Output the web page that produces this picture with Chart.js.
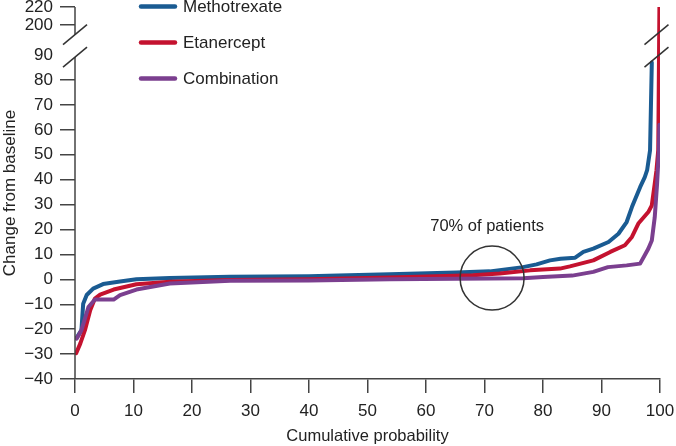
<!DOCTYPE html>
<html>
<head>
<meta charset="utf-8">
<script src="https://cdn.jsdelivr.net/npm/chart.js@4.4.0/dist/chart.umd.min.js"></script>
<style>
    html, body { margin: 0; padding: 0; background: #ffffff; }
    #wrap { width: 676px; height: 446px; }
</style>
</head>
<body>
<div id="wrap"><canvas id="cdfChart" width="676" height="446"></canvas></div>
<script>
// CUMULATIVE PROBABILITY PLOT - change from baseline by treatment
const seriesLabels = ['Methotrexate', 'Etanercept', 'Combination'];
const seriesColors = ['#1a5b92', '#c4122f', '#7b3f8f'];

const methotrexateX = [0.3, 1.1, 1.4, 2.0, 3.1, 4.8, 7.7, 10.5, 16.2, 26.5, 40, 45, 53.8, 65.2, 70.9, 76.6, 78.9, 81.2, 83, 85.5, 86.9, 88.6, 91.2, 92.9, 94.3, 95.2, 96.6, 97.4, 97.8, 98.3, 98.6];
const methotrexateY = [-23.4, -20.4, -9.8, -6.3, -3.7, -1.9, -0.9, 0, 0.5, 1.0, 1.2, 1.5, 2.0, 2.7, 3.2, 4.9, 6.0, 7.6, 8.3, 8.7, 11, 12.3, 15, 18.3, 23, 29, 37, 41, 43.8, 51.8, 87];

const etanerceptX = [0.2, 0.9, 1.7, 2.6, 3.4, 4.3, 6.6, 10.5, 16.2, 26.5, 40, 53.8, 68, 72.6, 77.8, 82.9, 84.6, 88.6, 91.5, 94, 95.2, 96.3, 98, 98.6, 99.1, 99.4, 99.7, 99.9];
const etanerceptY = [-29.6, -25.8, -20.4, -12.4, -7.7, -6.1, -4.1, -2.0, -1.0, -0.3, 0, 0.7, 1.6, 2.3, 3.6, 4.3, 5.2, 7.6, 11, 13.7, 17, 22.4, 27, 29.7, 38.4, 43.8, 51.8, 220];

const combinationX = [0.3, 1.1, 2.3, 3.4, 6.6, 7.7, 10.5, 16.2, 26.5, 40, 53.8, 76.6, 80, 85, 88.6, 91.1, 94.3, 96.6, 98, 98.6, 99.1, 99.5, 99.8, 99.9];
const combinationY = [-23.8, -20.4, -11.1, -8.1, -8.1, -6.3, -4.1, -1.7, -0.6, -0.5, 0, 0.4, 0.9, 1.5, 3, 4.9, 5.6, 6.3, 12.3, 15.6, 24.9, 38.3, 51.6, 62];

const xTickValues = [0, 10, 20, 30, 40, 50, 60, 70, 80, 90, 100];
const yTickValues = [-40, -30, -20, -10, 0, 10, 20, 30, 40, 50, 60, 70, 80, 90, 200, 220];

const xTitle = 'Cumulative probability';
const yTitle = 'Change from baseline';
const noteText = '70% of patients';

// broken y axis: 0..90 linear, gap, then 200..220 squeezed on top
function toDisplay(v) {
    if (v <= 90) return v;
    if (v >= 200) return 102.1 + (v - 200) * 0.36;
    return 90 + (v - 90) * 12.1 / 110;
}

function toPoints(xs, ys) {
    return xs.map((x, i) => ({ x: x, y: toDisplay(ys[i]) }));
}

const textColor = '#222222';
const axisColor = '#444444';
const fontFamily = '"Liberation Sans", Arial, sans-serif';

// custom drawing: axis line with break, slashes, legend, circle note
const extrasPlugin = {
    id: 'extras',
    afterDatasetsDraw(chart) {
        const ctx = chart.ctx;
        const xs = chart.scales.x;
        const ys = chart.scales.y;
        const axisX = chart.chartArea.left;
        const yUp = ys.getPixelForValue(98.2);
        const yLow = ys.getPixelForValue(89.2);

        ctx.save();
        ctx.strokeStyle = axisColor;
        ctx.lineWidth = 1.5;

        // y axis line in two pieces
        ctx.beginPath();
        ctx.moveTo(axisX, ys.getPixelForValue(toDisplay(220)));
        ctx.lineTo(axisX, yUp);
        ctx.moveTo(axisX, yLow);
        ctx.lineTo(axisX, chart.chartArea.bottom);
        ctx.stroke();

        // break slashes on axis and on the right of the plot
        const breakXs = [axisX, xs.getPixelForValue(99.4)];
        ctx.strokeStyle = '#333333';
        breakXs.forEach(bx => {
            [yUp, yLow].forEach(by => {
                ctx.beginPath();
                ctx.moveTo(bx - 12, by + 10);
                ctx.lineTo(bx + 12, by - 10);
                ctx.stroke();
            });
        });

        // circle around the 70% area
        const cx = xs.getPixelForValue(71.3);
        const cy = ys.getPixelForValue(0.5);
        ctx.beginPath();
        ctx.arc(cx, cy, 32, 0, Math.PI * 2);
        ctx.stroke();

        ctx.fillStyle = textColor;
        ctx.font = '16.5px ' + fontFamily;
        ctx.textAlign = 'center';
        ctx.textBaseline = 'middle';
        ctx.fillText(noteText, cx - 5, cy - 52);

        // legend
        ctx.font = '17px ' + fontFamily;
        ctx.textAlign = 'left';
        chart.data.datasets.forEach((ds, i) => {
            const ly = 6.5 + i * 36;
            ctx.strokeStyle = ds.borderColor;
            ctx.lineWidth = 4.5;
            ctx.lineCap = 'round';
            ctx.beginPath();
            ctx.moveTo(141, ly);
            ctx.lineTo(175, ly);
            ctx.stroke();
            ctx.fillStyle = textColor;
            ctx.fillText(ds.label, 183, ly + 1);
        });
        ctx.restore();
    }
};

const chartData = {
    datasets: [
        {
            label: seriesLabels[0],
            data: toPoints(methotrexateX, methotrexateY),
            borderColor: seriesColors[0],
            order: 2
        },
        {
            label: seriesLabels[1],
            data: toPoints(etanerceptX, etanerceptY),
            borderColor: seriesColors[1],
            order: 1
        },
        {
            label: seriesLabels[2],
            data: toPoints(combinationX, combinationY),
            borderColor: seriesColors[2],
            order: 0
        }
    ]
};

const chartConfig = {
    type: 'line',
    data: chartData,
    options: {
        responsive: false,
        animation: false,
        parsing: false,
        layout: {
            autoPadding: false,
            padding: { top: 7, right: 16, bottom: 0, left: 0 }
        },
        elements: {
            line: {
                borderWidth: 4,
                tension: 0,
                fill: false,
                borderCapStyle: 'round',
                borderJoinStyle: 'round'
            },
            point: { radius: 0, hoverRadius: 0 }
        },
        plugins: {
            legend: { display: false },
            tooltip: { enabled: false }
        },
        scales: {
            x: {
                type: 'linear',
                min: 0,
                max: 100,
                afterBuildTicks: scale => {
                    scale.ticks = xTickValues.map(v => ({ value: v }));
                },
                afterFit: scale => {
                    scale.height = 67;
                    scale.paddingLeft = 0;
                    scale.paddingRight = 0;
                },
                grid: {
                    drawOnChartArea: false,
                    tickLength: 14,
                    color: axisColor,
                    lineWidth: 1.5
                },
                border: { display: true, color: axisColor, width: 1.5 },
                ticks: {
                    padding: 8,
                    color: textColor,
                    font: { family: fontFamily, size: 17 },
                    maxRotation: 0
                },
                title: {
                    display: true,
                    text: xTitle,
                    color: textColor,
                    font: { family: fontFamily, size: 16.5 },
                    padding: { top: 0, bottom: 0 }
                }
            },
            y: {
                type: 'linear',
                min: -40,
                max: toDisplay(220),
                afterBuildTicks: scale => {
                    scale.ticks = yTickValues.map(v => ({ value: toDisplay(v) }));
                },
                afterFit: scale => {
                    scale.width = 75;
                    scale.paddingTop = 0;
                    scale.paddingBottom = 0;
                },
                grid: {
                    drawOnChartArea: false,
                    tickLength: 15,
                    lineWidth: 1.5,
                    color: c => (c.index === yTickValues.indexOf(90) ? 'rgba(0,0,0,0)' : axisColor)
                },
                border: { display: false },
                ticks: {
                    padding: 7,
                    color: textColor,
                    font: { family: fontFamily, size: 17 },
                    callback: (value, index) => {
                        const v = yTickValues[index];
                        return v < 0 ? '\u2212' + Math.abs(v) : String(v);
                    }
                },
                title: {
                    display: true,
                    text: yTitle,
                    color: textColor,
                    font: { family: fontFamily, size: 17 },
                    padding: { top: 0, bottom: 0 }
                }
            }
        }
    },
    plugins: [extrasPlugin]
};

new Chart(document.getElementById('cdfChart').getContext('2d'), chartConfig);
</script>
</body>
</html>
